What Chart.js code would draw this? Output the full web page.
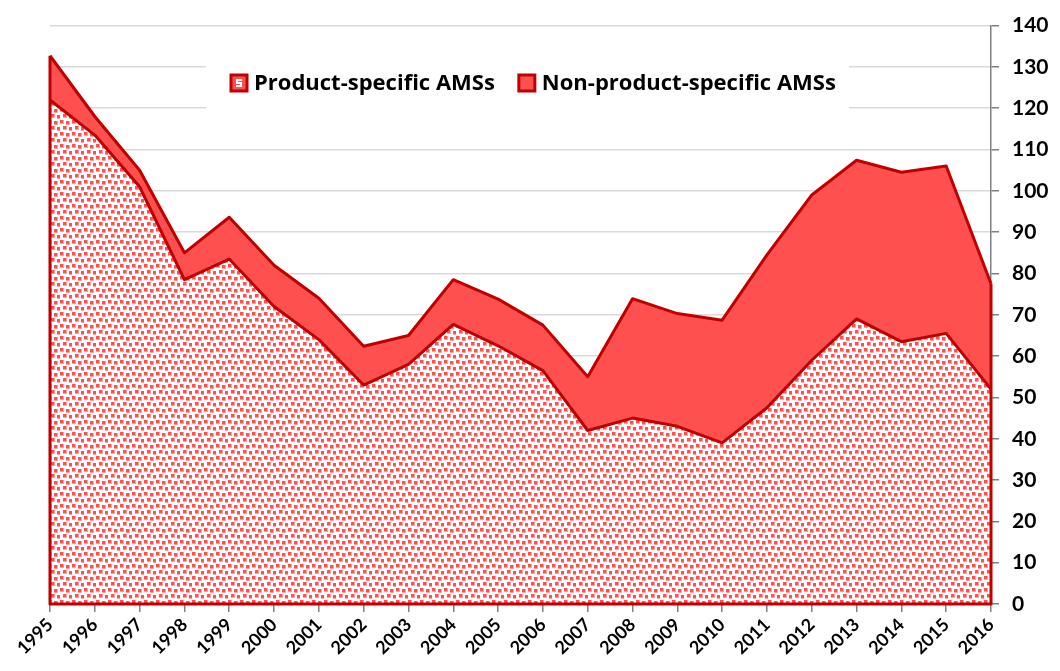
<!DOCTYPE html>
<html><head><meta charset="utf-8">
<script src="https://cdn.jsdelivr.net/npm/chart.js@4.4.1/dist/chart.umd.min.js"></script>
<style>html,body{margin:0;padding:0;background:#fff;}</style>
</head><body>
<canvas id="c" width="1060" height="671"></canvas>
<script>
const years = ['1995','1996','1997','1998','1999','2000','2001','2002','2003','2004','2005','2006','2007','2008','2009','2010','2011','2012','2013','2014','2015','2016'];
const productSpecific = [122, 113.5, 101, 78.5, 83.5, 72, 64, 53, 58, 67.7, 62.5, 56.5, 42, 45, 43, 39, 47.5, 59, 69, 63.5, 65.5, 52];
const nonProductSpecific = [10.7, 4.5, 4, 6.5, 10.1, 10, 10, 9.4, 7, 10.8, 11.3, 11, 13, 28.9, 27.3, 29.7, 37, 40, 38.4, 41, 40.5, 25.5];
const seriesLabels = ['Product-specific AMSs', 'Non-product-specific AMSs'];
const yMin = 0, yMax = 140, yStep = 10;

const RED = '#FF5050';
const DARK = '#C00000';
const FONT = 'Lato, "Liberation Sans", sans-serif';
const LEGEND_FONT = '"Open Sans", Lato, sans-serif';

function makeDots(){
  const c = document.createElement('canvas');
  c.width = 12; c.height = 12;
  const g = c.getContext('2d');
  g.fillStyle = '#fff'; g.fillRect(0,0,12,12);
  [[0,0],[6,1],[3,6],[9,7]].forEach(p => {
    g.fillStyle = '#FFA0A0'; g.fillRect(p[0], p[1], 4, 4);
    g.fillStyle = RED; g.fillRect(p[0], p[1], 3, 3);
  });
  return g.createPattern(c, 'repeat');
}
const ctx = document.getElementById('c').getContext('2d');
const dots = makeDots();

const outlinePlugin = {
  id: 'outline',
  afterDatasetsDraw(chart){
    const c = chart.ctx, x = chart.scales.x, y = chart.scales.y;
    const top = chart.getDatasetMeta(1).data;
    const y0 = y.getPixelForValue(0);
    const xl = x.getPixelForValue(0), xr = x.getPixelForValue(years.length - 1);
    c.save();
    c.strokeStyle = DARK; c.lineWidth = 3; c.lineJoin = 'round';
    c.beginPath();
    c.moveTo(top[0].x, top[0].y);
    c.lineTo(xl, y0); c.lineTo(xr, y0);
    c.lineTo(top[top.length-1].x, top[top.length-1].y);
    c.stroke();
    c.restore();
  }
};

const legendPlugin = {
  id: 'boxLegend',
  afterDraw(chart){
    const c = chart.ctx;
    c.save();
    c.fillStyle = '#fff';
    c.fillRect(206, 56, 643, 58);
    c.font = 'bold 22px ' + LEGEND_FONT;
    c.textBaseline = 'middle';
    const cy = 83;
    let x = 231;
    chart.data.datasets.forEach((ds, i) => {
      c.fillStyle = RED;
      c.fillRect(x, cy - 8, 16, 16);
      if (i === 0) {
        c.fillStyle = '#fff';
        c.fillRect(x + 5, cy - 4, 6, 2);
        c.fillRect(x + 5, cy - 4, 2, 4);
        c.fillRect(x + 5, cy - 1, 6, 2);
        c.fillRect(x + 9, cy - 1, 2, 4);
        c.fillRect(x + 5, cy + 2, 6, 2);
      }
      c.strokeStyle = DARK; c.lineWidth = 3;
      c.strokeRect(x, cy - 8, 16, 16);
      c.fillStyle = '#000';
      c.fillText(ds.label, x + 23, cy + 1);
      x += 23 + c.measureText(ds.label).width + 24;
    });
    c.restore();
  }
};

new Chart(ctx, {
  type: 'line',
  data: {
    labels: years,
    datasets: [
      { label: seriesLabels[0], data: productSpecific, backgroundColor: dots, borderColor: DARK, borderWidth: 3, fill: 'origin', pointRadius: 0, tension: 0, clip: false, borderJoinStyle: 'round' },
      { label: seriesLabels[1], data: nonProductSpecific, backgroundColor: RED, borderColor: DARK, borderWidth: 3, fill: '-1', pointRadius: 0, tension: 0, clip: false, borderJoinStyle: 'round' }
    ]
  },
  options: {
    responsive: false,
    animation: false,
    layout: { padding: { top: 25, right: 0, bottom: 0, left: 50 } },
    plugins: { legend: { display: false }, tooltip: { enabled: false } },
    scales: {
      x: {
        offset: false,
        grid: { drawOnChartArea: false, tickLength: 8, tickColor: '#808080', lineWidth: 1.5 },
        border: { color: '#808080', width: 1.5 },
        ticks: { minRotation: 45, maxRotation: 45, autoSkip: false, padding: 2, color: '#000', font: { family: FONT, weight: 'bold', size: 18 } },
        afterFit(s){ s.height = 67; }
      },
      y: {
        position: 'right',
        stacked: true,
        min: yMin, max: yMax,
        grid: { color: '#D9D9D9', lineWidth: 1.5, tickLength: 8, tickColor: '#808080' },
        border: { color: '#808080', width: 1.5 },
        ticks: { stepSize: yStep, padding: 13, color: '#000', font: { family: FONT, weight: 'bold', size: 21 } },
        afterFit(s){ s.width = 69; }
      }
    }
  },
  plugins: [outlinePlugin, legendPlugin]
});
</script>
</body></html>
